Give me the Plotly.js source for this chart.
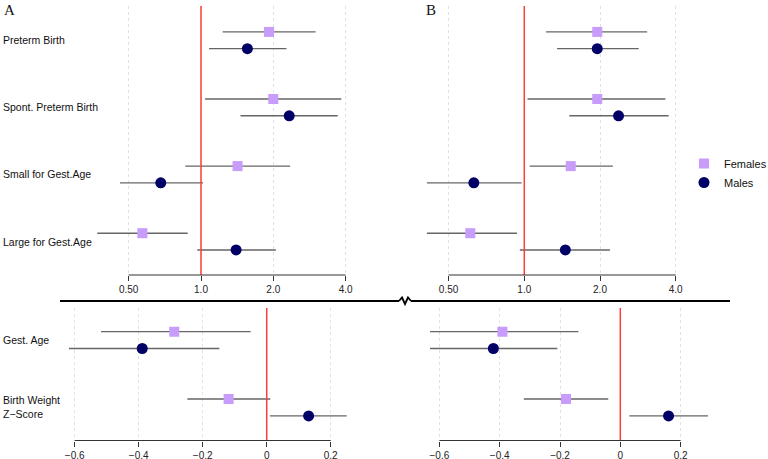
<!DOCTYPE html>
<html><head><meta charset="utf-8">
<script src="https://cdn.plot.ly/plotly-3.0.1.min.js"></script>
<style>html,body{margin:0;padding:0;background:#fff;overflow:hidden}#chart{width:768px;height:459px}</style>
</head><body><div id="chart"></div>
<script>
// ---------- data ----------
const topCategories = ['Preterm Birth', 'Spont. Preterm Birth', 'Small for Gest.Age', 'Large for Gest.Age'];
const bottomCategories = ['Gest. Age', 'Birth Weight<br>Z\u2212Score'];

const topTickVals = [0.5, 1, 2, 4];
const topTickText = ['0.50', '1.0', '2.0', '4.0'];
const bottomTickVals = [-0.6, -0.4, -0.2, 0, 0.2];
const bottomTickText = ['\u22120.6', '\u22120.4', '\u22120.2', '0', '0.2'];

// Panel A, odds ratios
const aFemEst = [1.92, 2.00, 1.42, 0.57];
const aFemLo  = [1.23, 1.04, 0.86, 0.37];
const aFemHi  = [3.00, 3.84, 2.35, 0.88];
const aMalEst = [1.56, 2.33, 0.68, 1.40];
const aMalLo  = [1.08, 1.46, 0.46, 0.965];
const aMalHi  = [2.27, 3.71, 1.02, 2.05];

// Panel B, odds ratios
const bFemEst = [1.95, 1.95, 1.53, 0.61];
const bFemLo  = [1.22, 1.03, 1.05, 0.41];
const bFemHi  = [3.08, 3.64, 2.25, 0.935];
const bMalEst = [1.95, 2.37, 0.63, 1.456];
const bMalLo  = [1.35, 1.51, 0.41, 0.96];
const bMalHi  = [2.85, 3.75, 0.976, 2.19];

// Panel A, continuous outcomes
const aFemEstC = [-0.289, -0.119];
const aFemLoC  = [-0.518, -0.248];
const aFemHiC  = [-0.050, 0.011];
const aMalEstC = [-0.389, 0.131];
const aMalLoC  = [-0.618, 0.010];
const aMalHiC  = [-0.148, 0.250];

// Panel B, continuous outcomes
const bFemEstC = [-0.391, -0.180];
const bFemLoC  = [-0.631, -0.320];
const bFemHiC  = [-0.139, -0.040];
const bMalEstC = [-0.421, 0.160];
const bMalLoC  = [-0.631, 0.030];
const bMalHiC  = [-0.209, 0.291];

// ---------- style ----------
const W = 768, H = 459;
const FONT = 'Liberation Sans, Arial, Helvetica, sans-serif';
const FEM_COLOR = '#C79CFA';
const MAL_COLOR = '#000066';
const CI_COLOR = '#666666';
const px = v => v / W;
const py = v => 1 - v / H;

function trace(est, lo, hi, idxOffset, xa, ya, name, isFem, showLeg) {
  return {
    type: 'scatter', mode: 'markers',
    x: est, y: est.map((_, i) => i + idxOffset),
    xaxis: xa, yaxis: ya, name: name, showlegend: showLeg,
    marker: isFem ? {symbol: 'square', size: 10, color: FEM_COLOR}
                  : {symbol: 'circle', size: 11, color: MAL_COLOR},
    error_x: {type: 'data', symmetric: false,
      array: hi.map((h, i) => h - est[i]),
      arrayminus: est.map((e, i) => e - lo[i]),
      thickness: 1.4, width: 0, color: CI_COLOR},
    hoverinfo: 'skip'
  };
}

const data = [
  trace(aFemEst, aFemLo, aFemHi, -0.125, 'x', 'y', 'Females', true, true),
  trace(aMalEst, aMalLo, aMalHi, 0.125, 'x', 'y', 'Males', false, true),
  trace(bFemEst, bFemLo, bFemHi, -0.125, 'x2', 'y2', 'Females', true, false),
  trace(bMalEst, bMalLo, bMalHi, 0.125, 'x2', 'y2', 'Males', false, false),
  trace(aFemEstC, aFemLoC, aFemHiC, -0.125, 'x3', 'y3', 'Females', true, false),
  trace(aMalEstC, aMalLoC, aMalHiC, 0.125, 'x3', 'y3', 'Males', false, false),
  trace(bFemEstC, bFemLoC, bFemHiC, -0.125, 'x4', 'y4', 'Females', true, false),
  trace(bMalEstC, bMalLoC, bMalHiC, 0.125, 'x4', 'y4', 'Males', false, false)
];

const tickFont = {family: FONT, size: 10, color: '#222'};
function xAxis(d0, d1, range, isLog, anchor) {
  return {
    domain: [px(d0), px(d1)], range: range, type: isLog ? 'log' : 'linear', anchor: anchor,
    tickmode: 'array',
    tickvals: isLog ? topTickVals : bottomTickVals,
    ticktext: isLog ? topTickText : bottomTickText,
    ticks: 'outside', ticklen: 5, tickwidth: 1, tickcolor: '#333',
    showline: false, zeroline: false, automargin: false,
    showgrid: true, gridcolor: '#e2e2e2', griddash: 'dot', gridwidth: 1,
    tickfont: tickFont, fixedrange: true
  };
}
function yAxis(top, bottom, range, anchor) {
  return {domain: [py(bottom), py(top)], range: range, visible: false, anchor: anchor, fixedrange: true, automargin: false};
}

const shapes = [];
function refLine(xa, v) {
  shapes.push({type: 'line', xref: xa, yref: xa.replace('x', 'y') + ' domain', x0: v, x1: v, y0: 0, y1: 1,
    line: {color: '#FF3B3B', width: 1.5}, layer: 'above'});
}
function axisLine(xa, v0, v1) {
  shapes.push({type: 'line', xref: xa, yref: xa.replace('x', 'y') + ' domain', x0: v0, x1: v1, y0: 0, y1: 0,
    line: {color: '#333', width: 1.2}, layer: 'above'});
}
refLine('x', 1); refLine('x2', 1); refLine('x3', 0); refLine('x4', 0);
axisLine('x', topTickVals[0], topTickVals[topTickVals.length - 1]);
axisLine('x2', topTickVals[0], topTickVals[topTickVals.length - 1]);
axisLine('x3', bottomTickVals[0], bottomTickVals[bottomTickVals.length - 1]);
axisLine('x4', bottomTickVals[0], bottomTickVals[bottomTickVals.length - 1]);

// break line with zigzag
const breakY = 301;
shapes.push({type: 'line', xref: 'paper', yref: 'paper', x0: px(60), x1: px(399), y0: py(breakY), y1: py(breakY), line: {color: '#000', width: 2}, layer: 'above'});
shapes.push({type: 'line', xref: 'paper', yref: 'paper', x0: px(411), x1: px(730), y0: py(breakY), y1: py(breakY), line: {color: '#000', width: 2}, layer: 'above'});
const zz = [[399, 301], [402, 297.5], [405, 304], [408, 297.5], [411, 301]];
shapes.push({type: 'path', xref: 'paper', yref: 'paper',
  path: zz.map((p, i) => (i ? 'L' : 'M') + px(p[0]).toFixed(5) + ',' + py(p[1]).toFixed(5)).join(' '),
  line: {color: '#000', width: 1.8}, layer: 'above'});

const annotations = [];
topCategories.forEach((c, i) => annotations.push({text: c, xref: 'paper', yref: 'y', x: px(1), y: i,
  xanchor: 'left', yanchor: 'middle', showarrow: false, font: {family: FONT, size: 10.5, color: '#111'}}));
bottomCategories.forEach((c, i) => annotations.push({text: c, xref: 'paper', yref: 'y3', x: px(1), y: i,
  xanchor: 'left', yanchor: 'middle', align: 'left', showarrow: false, font: {family: FONT, size: 10.5, color: '#111'}}));
annotations.push({text: 'A', xref: 'paper', yref: 'paper', x: px(2), y: py(0), xanchor: 'left', yanchor: 'top',
  showarrow: false, font: {family: 'Liberation Serif, Times New Roman, serif', size: 15, color: '#111'}});
annotations.push({text: 'B', xref: 'paper', yref: 'paper', x: px(424), y: py(0), xanchor: 'left', yanchor: 'top',
  showarrow: false, font: {family: 'Liberation Serif, Times New Roman, serif', size: 15, color: '#111'}});

const layout = {
  width: W, height: H, margin: {l: 0, r: 0, t: 0, b: 0, autoexpand: false},
  paper_bgcolor: '#fff', plot_bgcolor: '#fff',
  font: {family: FONT},
  xaxis: xAxis(60, 370, [-0.587, 0.7036], true, 'y'),
  yaxis: yAxis(6, 275, [3.498, -0.511], 'x'),
  xaxis2: xAxis(400, 700, [-0.4942, 0.6986], true, 'y2'),
  yaxis2: yAxis(6, 275, [3.498, -0.511], 'x2'),
  xaxis3: xAxis(60, 370, [-0.646, 0.3228], false, 'y3'),
  yaxis3: yAxis(308, 440.5, [1.49, -0.476], 'x3'),
  xaxis4: xAxis(428, 730, [-0.6378, 0.3638], false, 'y4'),
  yaxis4: yAxis(308, 440.5, [1.49, -0.476], 'x4'),
  showlegend: true,
  legend: {x: px(684), xanchor: 'left', y: py(149), yanchor: 'top', bgcolor: 'rgba(0,0,0,0)',
    font: {family: FONT, size: 11, color: '#111'}, itemclick: false, itemdoubleclick: false,
    traceorder: 'normal'},
  shapes: shapes, annotations: annotations
};

Plotly.newPlot('chart', data, layout, {displayModeBar: false, staticPlot: true});
</script></body></html>
